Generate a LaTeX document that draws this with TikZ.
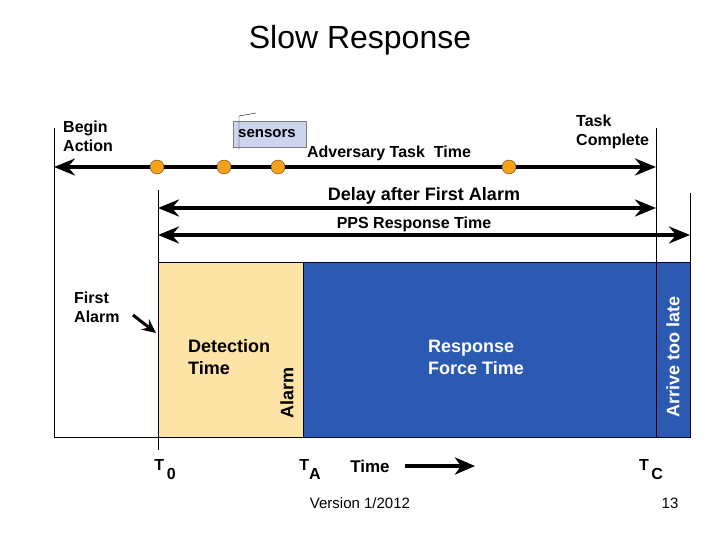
\documentclass[tikz,border=0pt]{standalone}
\usepackage{fontspec}
\setmainfont{Liberation Sans}
\usetikzlibrary{arrows.meta,positioning}
\definecolor{detYellow}{HTML}{FDE3A5}
\definecolor{respBlue}{HTML}{2C5AB2}
\definecolor{dotOrange}{HTML}{F4A11C}
\definecolor{sensBlue}{HTML}{CBD5EE}

\begin{document}
\begin{tikzpicture}[x=1pt,y=-1pt,>={Stealth[length=21pt,width=17pt,inset=7pt]},
  span/.style={line width=4.5pt,<->},
  lbl/.style={font=\bfseries\fontsize{16}{19}\selectfont,align=left,inner sep=0pt},
  tlbl/.style={font=\bfseries\fontsize{18}{22}\selectfont,align=left,inner sep=0pt},
  evt/.style={circle,draw=black!60!dotOrange,fill=dotOrange,minimum size=14pt,inner sep=0pt}]
  \useasboundingbox (0,0) rectangle (720,540);
  \node (title) at (360,40) {\fontsize{32}{36}\selectfont Slow Response};
  % time boxes
  \draw[fill=detYellow] (158,262) rectangle (303,437);
  \draw[draw=black!80!blue,fill=respBlue] (303,262) rectangle (656,437);
  \draw[draw=black!80!blue,fill=respBlue] (656,262) rectangle (690,437);
  % frame lines
  \draw (54,128) -- (54,437) -- (158,437);
  \draw (158,190) -- (158,450);
  \draw (656,128) -- (656,437);
  \draw (690,193) -- (690,262);
  % spans
  \coordinate (begin) at (54,167);
  \coordinate (done) at (656,167);
  \coordinate (alarmL) at (158,208);
  \coordinate (alarmR) at (656,208);
  \coordinate (ppsL) at (158,235);
  \coordinate (ppsR) at (690,235);
  \draw[span] (begin) -- (done);
  \draw[span] (alarmL) -- (alarmR);
  \draw[span] (ppsL) -- (ppsR);
  \foreach \x in {157,224,278,509}
    \node[evt] at (\x,167) {};
  % labels
  \node[lbl,anchor=west] (begAct) at (63,136) {Begin\\Action};
  \node[lbl,anchor=west] (taskDone) at (576,132) {Task\\Complete};
  \node[lbl,anchor=base] (advTime) at (389,158) {Adversary Task\ \ Time};
  \node[tlbl,anchor=base] (delay) at (424,201) {Delay after First Alarm};
  \node[lbl,anchor=base] (pps) at (414,229) {PPS Response Time};
  \draw[gray,fill=sensBlue] (233,121) rectangle (306,147);
  \node[lbl,font=\bfseries\fontsize{15}{18}\selectfont] (sens) at (267,134) {sensors};
  \draw[thin] (239,150) -- (239,116) -- (256,113);
  % inside the boxes
  \node[tlbl,anchor=west] (detect) at (188,357) {Detection\\Time};
  \node[tlbl,anchor=west,text=white] (respForce) at (428,357) {Response\\Force Time};
  \node[tlbl,rotate=90] (alarmTxt) at (287,393) {Alarm};
  \node[tlbl,rotate=90,text=white] (late) at (673,357) {Arrive too late};
  \node[lbl,anchor=west] (firstAl) at (74,307) {First\\Alarm};
  \coordinate (alTip) at (156,333);
  \draw[->,line width=3pt,>={Stealth[length=14pt,width=13pt,inset=5pt]}] (133,315) -- (alTip);
  % time axis
  \node[lbl,anchor=base] (tzero) at (165,470) {T\raisebox{-9pt}{\,0}};
  \node[lbl,anchor=base] (talarm) at (310,470) {T\raisebox{-9pt}{A}};
  \node[lbl,anchor=base] (tdone) at (651,470) {T\raisebox{-9pt}{\,C}};
  \node[lbl,font=\bfseries\fontsize{17}{20}\selectfont,anchor=base] (timeTxt) at (370,472) {Time};
  \coordinate (timeEnd) at (475,466);
  \draw[->,line width=3.5pt,>={Stealth[length=20pt,width=17pt,inset=6pt]}] (405,466) -- (timeEnd);
  \node[font=\fontsize{15}{18}\selectfont] (version) at (360,503) {Version 1/2012};
  \node[font=\fontsize{15}{18}\selectfont] (page) at (670,503) {13};
\end{tikzpicture}
\end{document}
